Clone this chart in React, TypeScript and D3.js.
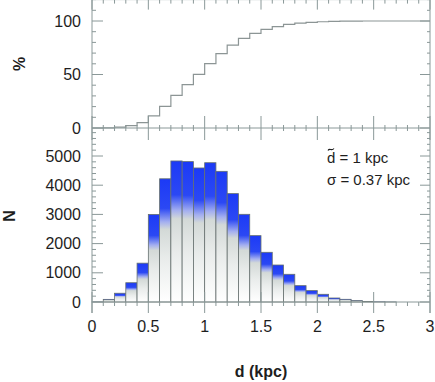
import React from "react";
import * as d3 from "d3";

// histogram of distances, bins of 0.1 kpc starting at 0
const binStart = [0, 0.1, 0.2, 0.3, 0.4, 0.5, 0.6, 0.7, 0.8, 0.9, 1.0, 1.1, 1.2, 1.3, 1.4, 1.5, 1.6, 1.7, 1.8, 1.9, 2.0, 2.1, 2.2, 2.3, 2.4, 2.5, 2.6];
const counts = [5, 90, 300, 660, 1330, 3000, 4220, 4830, 4808, 4590, 4770, 4475, 3712, 3003, 2273, 1702, 1267, 949, 560, 390, 264, 137, 92, 47, 20, 8, 3];
// cumulative percentage (level over each bin)
const cumPct = [0, 0.2, 0.8, 2.2, 5.0, 11.3, 20.2, 30.4, 40.5, 50.2, 60.2, 69.6, 77.4, 83.8, 88.5, 92.1, 94.8, 96.8, 98.0, 98.8, 99.3, 99.6, 99.8, 99.9, 100, 100, 100];
const xTicks = [0, 0.5, 1, 1.5, 2, 2.5, 3];
const pctTicks = [0, 50, 100];
const nTicks = [0, 1000, 2000, 3000, 4000, 5000];

const W = 435, H = 382;
const axisCol = "#8a9898";
const font = "'Liberation Sans', Arial, sans-serif";

export default function App() {
  const left = 92, right = 430;
  const midY = 128, topY = -0.4, baseY = 302, botY = 313;
  const binW = 0.1;

  const x = d3.scaleLinear().domain([0, 3]).range([left, right]);
  const yTop = d3.scaleLinear().domain([0, 120]).range([midY, topY]);
  const yBot = d3.scaleLinear().domain([0, 5000]).range([baseY, 156]);

  const xMinor = d3.range(0, 3.0001, 0.1).map(v => +v.toFixed(1));
  const topMinor = d3.range(0, 121, 10);
  const botMinor = d3.range(0, 6000, 200).filter(v => yBot(v) >= midY);

  const stepPts: [number, number][] = binStart.map((b, i) => [b, cumPct[i]]);
  stepPts.push([3, 100]);
  const stepLine = d3.line<[number, number]>()
    .x(d => x(d[0]))
    .y(d => yTop(d[1]))
    .curve(d3.curveStepAfter);

  const isMajor = (v: number) => Math.abs(v * 2 - Math.round(v * 2)) < 1e-6;

  // annotation anchor
  const annX = 327, annY = 163;

  return (
    <div style={{ position: "absolute", left: 0, top: 0 }}>
      <svg width={W} height={H} style={{ display: "block", background: "#fff" }}>
        <defs>
          <linearGradient id="barGrad" x1="0" y1="0" x2="0" y2="1">
            <stop offset="0%" stopColor="#1c3af6" />
            <stop offset="24%" stopColor="#2b48f4" />
            <stop offset="35%" stopColor="#a4aff0" />
            <stop offset="41%" stopColor="#d3d9d7" />
            <stop offset="65%" stopColor="#e9eceb" />
            <stop offset="100%" stopColor="#ffffff" />
          </linearGradient>
        </defs>

        {/* bars */}
        <g>
          {counts.map((c, i) => (
            <rect key={i}
              x={x(binStart[i])}
              y={yBot(c)}
              width={x(binStart[i] + binW) - x(binStart[i])}
              height={baseY - yBot(c)}
              fill="url(#barGrad)"
              stroke="#66706f"
              strokeWidth={0.8} />
          ))}
        </g>

        {/* cumulative step line */}
        <path d={stepLine(stepPts) || ""} fill="none" stroke="#8c9595" strokeWidth={1.2} />

        {/* frame lines */}
        <g stroke={axisCol} strokeWidth={1} fill="none">
          <line x1={left} x2={left} y1={topY} y2={botY} />
          <line x1={right} x2={right} y1={topY} y2={botY} />
          <line x1={left} x2={right} y1={topY} y2={topY} />
          <line x1={left} x2={right} y1={midY} y2={midY} />
          <line x1={left} x2={right} y1={baseY} y2={baseY} />
        </g>

        {/* x ticks */}
        <g stroke={axisCol} strokeWidth={1}>
          {xMinor.map(v => {
            const px = x(v);
            const maj = isMajor(v);
            return (
              <g key={v}>
                <line x1={px} x2={px} y1={topY} y2={topY + (maj ? 10 : 4)} />
                <line x1={px} x2={px} y1={midY - (maj ? 12 : 3)} y2={midY + (maj ? 12 : 3)} />
                <line x1={px} x2={px} y1={baseY - (maj ? 10 : 0)} y2={baseY + (maj ? 11 : 4)} />
              </g>
            );
          })}
        </g>

        {/* y ticks top panel */}
        <g stroke={axisCol} strokeWidth={1}>
          {topMinor.map(v => {
            const py = yTop(v);
            const maj = v % 50 === 0;
            return (
              <g key={v}>
                <line x1={left} x2={left + (maj ? 11 : 4)} y1={py} y2={py} />
                <line x1={right} x2={right - (maj ? 10 : 3)} y1={py} y2={py} />
              </g>
            );
          })}
        </g>

        {/* y ticks bottom panel */}
        <g stroke={axisCol} strokeWidth={1}>
          {botMinor.map(v => {
            const py = yBot(v);
            const maj = v % 1000 === 0;
            return (
              <g key={v}>
                <line x1={left} x2={left + (maj ? 11 : 4)} y1={py} y2={py} />
                <line x1={right} x2={right - (maj ? 10 : 3)} y1={py} y2={py} />
              </g>
            );
          })}
        </g>

        {/* tick labels */}
        <g fontFamily={font} fontSize={16} fill="#1e1e1e">
          {pctTicks.map(v => (
            <text key={"p" + v} x={81} y={yTop(v)} textAnchor="end" dominantBaseline="central">{v}</text>
          ))}
          {nTicks.map(v => (
            <text key={"n" + v} x={81} y={yBot(v)} textAnchor="end" dominantBaseline="central">{v}</text>
          ))}
          {xTicks.map(v => (
            <text key={"x" + v} x={x(v)} y={332} textAnchor="middle">{v}</text>
          ))}
        </g>

        {/* axis titles */}
        <g fontFamily={font} fontSize={16} fontWeight="bold" fill="#1e1e1e">
          <text transform={`translate(25,${yTop(60)}) rotate(-90)`} textAnchor="middle">%</text>
          <text transform={`translate(15,${yBot(2950)}) rotate(-90)`} textAnchor="middle">N</text>
          <text x={x(1.5)} y={377} textAnchor="middle">d (kpc)</text>
        </g>

        {/* annotation: median (tilde drawn as a small stroke above the d) */}
        <path
          d={`M${annX + 1},${annY - 12.5} C${annX + 2.5},${annY - 15.5} ${annX + 4.5},${annY - 11.5} ${annX + 7},${annY - 14.5}`}
          fill="none" stroke="#1e1e1e" strokeWidth={1.1} />
        <g fontFamily={font} fontSize={15} fill="#1e1e1e">
          <text x={annX} y={annY}>d = 1 kpc</text>
          <text x={annX} y={185}>σ = 0.37 kpc</text>
        </g>
      </svg>
    </div>
  );
}
